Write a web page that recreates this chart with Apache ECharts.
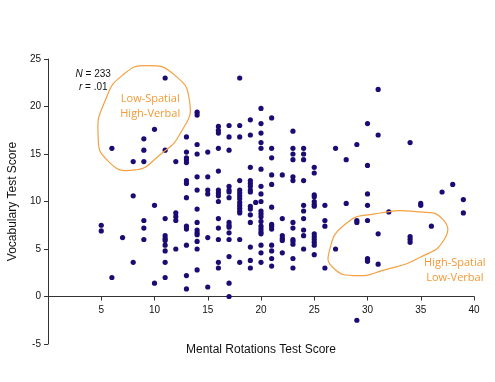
<!DOCTYPE html>
<html>
<head>
<meta charset="utf-8">
<script src="https://cdn.jsdelivr.net/npm/echarts@6/dist/echarts.min.js"></script>
<style>
html,body{margin:0;padding:0;background:#fff;}
#chart{width:495px;height:382px;}
</style>
</head>
<body>
<div id="chart"></div>
<script>
// Mental rotations score columns and vocabulary scores observed at each
const rotationScores = [5, 6, 7, 8, 9, 10, 11, 12, 13, 14, 15, 16, 17, 18, 19, 19.5, 20, 21, 22, 23, 24, 25, 26, 27, 28, 29, 30, 31, 32, 34, 35, 36, 37, 38, 39];
const vocabularyScores = [
  [7.5, 6.9],
  [15.6, 2.0],
  [6.2],
  [14.2, 10.6, 3.6],
  [16.6, 15.4, 14.2, 8.0, 7.2, 6.0],
  [17.6, 9.6, 1.4],
  [23.0, 15.4, 8.2, 6.4, 6.1, 5.9, 5.4, 4.8, 3.6, 2.0],
  [14.2, 8.8, 8.4, 8.0, 5.0],
  [16.8, 15.2, 14.6, 14.4, 14.1, 12.2, 11.9, 10.4, 7.4, 7.1, 5.4, 2.2, 0.8],
  [19.4, 19.1, 16.0, 15.0, 12.6, 11.2, 9.2, 7.8, 7.0, 6.7, 6.5, 5.8, 5.0, 2.8],
  [15.2, 12.6, 11.2, 10.8, 6.2, 1.0],
  [17.9, 17.5, 17.2, 15.6, 13.2, 11.2, 10.9, 10.6, 10.0, 8.2, 7.2, 6.0, 3.6, 3.0],
  [18.0, 16.8, 15.4, 11.6, 11.2, 11.0, 10.4, 7.8, 7.5, 7.3, 6.7, 6.0, 4.2, 1.4, 0.0],
  [23.0, 18.0, 16.8, 12.2, 11.2, 10.9, 10.6, 10.3, 9.9, 9.6, 9.3, 9.0, 8.8, 6.0, 3.6],
  [18.6, 17.0, 13.6, 12.2, 11.9, 11.6, 11.2, 11.0, 9.5, 9.2, 8.6, 7.8, 5.2, 3.8, 3.0],
  [9.9],
  [19.8, 18.2, 17.2, 16.2, 15.6, 13.4, 11.6, 10.8, 10.0, 9.0, 8.7, 8.4, 7.9, 7.4, 7.1, 6.8, 6.6, 5.4, 4.6, 3.6],
  [18.8, 15.6, 14.6, 12.8, 11.8, 9.4, 7.6, 7.4, 7.1, 5.4, 4.8, 4.0, 3.2],
  [12.8, 8.2, 6.4, 6.1, 5.9, 4.6],
  [17.4, 15.6, 15.0, 14.4, 12.6, 12.2, 7.8, 7.2, 6.0, 5.8, 5.5, 4.0, 3.0],
  [15.6, 15.0, 14.4, 12.2, 9.6, 9.0, 8.2, 7.0, 6.4, 5.0],
  [13.6, 13.0, 10.7, 10.5, 10.0, 9.7, 9.5, 6.6, 6.3, 6.0, 5.7, 5.4, 4.4],
  [9.6, 8.0, 7.4, 3.0],
  [15.6, 5.0],
  [14.4, 9.8],
  [16.0, 8.0, 7.8, -2.5],
  [18.2, 13.8, 10.8, 9.6, 8.0, 4.0, 3.9, 3.7],
  [21.8, 17.0, 6.6, 3.4],
  [8.9],
  [16.2, 6.3, 6.0, 5.7],
  [9.8, 9.6],
  [7.4],
  [11.0],
  [11.8],
  [10.2, 8.8]
];
const xTicks = [0, 40, 5];   // min, max, interval
const yTicks = [-5, 25, 5];
const statsLines = ['{i|N} = 233', '{i|r} = .01'];
// annotation outlines (data coordinates)
const lowSpatialOutline = [[9.3,24.3],[11.9,23.3],[13.3,20.5],[12.6,17.5],[10.5,14.9],[8.0,13.3],[5.6,14.3],[4.7,17.0],[5.4,20.7],[7.0,23.3]];
const highSpatialOutline = [[26.4,4.7],[27.9,7.6],[30.7,8.7],[34.9,8.9],[37.1,8.1],[37.2,6.0],[34.9,4.1],[31.6,2.8],[28.8,2.2],[26.8,3.0]];
const groupLabels = [
  {text: 'Low-Spatial\nHigh-Verbal', at: [9.6, 20.05]},
  {text: 'High-Spatial\nLow-Verbal', at: [38.2, 2.75]}
];

const points = [];
rotationScores.forEach((x, i) => vocabularyScores[i].forEach(y => points.push([x, y])));

const W = 495, H = 382;
const grid = {left: 48, right: 21, top: 59, bottom: 38};
// x axis sits on the y = 0 line: shift it up from the grid bottom
const gridH = H - grid.top - grid.bottom;
const zeroOffset = -gridH * (0 - yTicks[0]) / (yTicks[1] - yTicks[0]);

const chart = echarts.init(document.getElementById('chart'), null, {renderer: 'canvas'});
const axisColor = '#333';
const font = 'Liberation Sans, Arial, sans-serif';
chart.setOption({
  animation: false,
  grid: Object.assign({containLabel: false, outerBoundsMode: 'none'}, grid),
  xAxis: {
    type: 'value', min: xTicks[0], max: xTicks[1], interval: xTicks[2],
    position: 'bottom', offset: zeroOffset,
    name: 'Mental Rotations Test Score', nameLocation: 'middle', nameGap: 47,
    nameTextStyle: {fontFamily: font, fontSize: 12, color: '#111'},
    axisLine: {show: true, onZero: false, lineStyle: {color: axisColor, width: 1}},
    axisTick: {show: true, length: 4, lineStyle: {color: axisColor}},
    axisLabel: {fontFamily: font, fontSize: 10, color: '#111', margin: 9,
      formatter: v => v === 0 ? '' : String(v)},
    splitLine: {show: false}
  },
  yAxis: {
    type: 'value', min: yTicks[0], max: yTicks[1], interval: yTicks[2],
    name: 'Vocabulary Test Score', nameLocation: 'middle', nameGap: 28,
    nameTextStyle: {fontFamily: font, fontSize: 12, color: '#111'},
    axisLine: {show: true, onZero: false, lineStyle: {color: axisColor, width: 1}},
    axisTick: {show: true, length: 4, lineStyle: {color: axisColor}},
    axisLabel: {fontFamily: font, fontSize: 10, color: '#111', margin: 7},
    splitLine: {show: false}
  },
  series: [{
    type: 'scatter',
    data: points,
    symbol: 'circle',
    symbolSize: 5.2,
    itemStyle: {color: '#1b0c74', opacity: 1},
    z: 3
  }]
});

function px(p) { return chart.convertToPixel({gridIndex: 0}, p); }
const orange = '#f5a142';
const graphics = [];
[lowSpatialOutline, highSpatialOutline].forEach(outline => {
  graphics.push({
    type: 'polygon',
    shape: {points: outline.map(px), smooth: 0.55},
    style: {fill: 'none', stroke: orange, lineWidth: 1.2},
    z: 10
  });
});
groupLabels.forEach(g => {
  const p = px(g.at);
  graphics.push({
    type: 'text', x: p[0], y: p[1], z: 11,
    style: {text: g.text, fill: '#f39a35', font: '11px "Open Sans", sans-serif',
      align: 'center', verticalAlign: 'middle', lineHeight: 15}
  });
});
const sp = px([4.25, 22.75]);
graphics.push({
  type: 'text', x: sp[0], y: sp[1], z: 11,
  style: {
    text: statsLines.join('\n'),
    align: 'center', verticalAlign: 'middle',
    fill: '#111', font: '10px "Liberation Sans", Arial, sans-serif', lineHeight: 13,
    rich: {i: {fontStyle: 'italic', fontFamily: 'Liberation Sans', fontSize: 10, fill: '#111'}}
  }
});
chart.setOption({graphic: graphics});
</script>
</body>
</html>
